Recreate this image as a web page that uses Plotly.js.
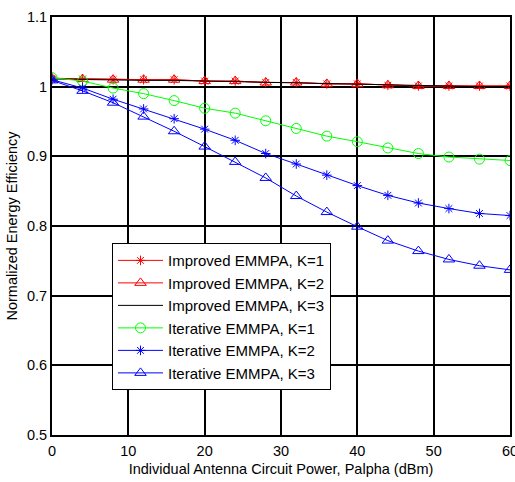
<!DOCTYPE html>
<html>
<head>
<meta charset="utf-8">
<script src="https://cdn.plot.ly/plotly-3.0.1.min.js"></script>
<style>html,body{margin:0;padding:0;background:#fff;}#chart{width:515px;height:482px;}</style>
</head>
<body>
<div id="chart"></div>
<script>
const palpha = [0, 4, 8, 12, 16, 20, 24, 28, 32, 36, 40, 44, 48, 52, 56, 60];
const improvedK1 = [1.012, 1.011, 1.010, 1.010, 1.010, 1.008, 1.008, 1.006, 1.006, 1.004, 1.004, 1.002, 1.001, 1.001, 1.001, 1.001];
const improvedK2 = [1.012, 1.011, 1.010, 1.010, 1.010, 1.008, 1.008, 1.006, 1.006, 1.004, 1.004, 1.002, 1.001, 1.001, 1.001, 1.001];
const improvedK3 = [1.011, 1.010, 1.010, 1.009, 1.009, 1.008, 1.007, 1.006, 1.005, 1.004, 1.003, 1.002, 1.001, 1.001, 1.000, 1.000];
const iterativeK1 = [1.013, 1.008, 0.998, 0.990, 0.980, 0.969, 0.962, 0.951, 0.940, 0.929, 0.921, 0.912, 0.904, 0.899, 0.896, 0.894];
const iterativeK2 = [1.010, 0.998, 0.982, 0.968, 0.954, 0.939, 0.923, 0.904, 0.889, 0.873, 0.858, 0.844, 0.833, 0.825, 0.818, 0.815];
const iterativeK3 = [1.009, 0.994, 0.977, 0.957, 0.936, 0.914, 0.892, 0.869, 0.843, 0.820, 0.799, 0.779, 0.764, 0.752, 0.743, 0.737];
const seriesNames = ["Improved EMMPA, K=1", "Improved EMMPA, K=2", "Improved EMMPA, K=3",
                     "Iterative EMMPA, K=1", "Iterative EMMPA, K=2", "Iterative EMMPA, K=3"];
const xTicks = [0, 10, 20, 30, 40, 50, 60];
const yTicks = [0.5, 0.6, 0.7, 0.8, 0.9, 1.0, 1.1];
const yTickText = ["0.5", "0.6", "0.7", "0.8", "0.9", "1", "1.1"];

function tr(y, name, color, symbol, msize) {
  const t = {x: palpha, y: y, name: name, type: 'scatter',
    mode: symbol ? 'lines+markers' : 'lines',
    line: {color: color, width: 1}};
  if (symbol) t.marker = {symbol: symbol, size: msize, color: color, line: {color: color, width: 1}};
  return t;
}

const data = [
  tr(improvedK1, seriesNames[0], '#ff0000', 'asterisk-open', 8),
  tr(improvedK2, seriesNames[1], '#ff0000', 'triangle-up-open', 10),
  tr(improvedK3, seriesNames[2], '#000000', null, 0),
  tr(iterativeK1, seriesNames[3], '#00ff00', 'circle-open', 10),
  tr(iterativeK2, seriesNames[4], '#0000ff', 'asterisk-open', 8),
  tr(iterativeK3, seriesNames[5], '#0000ff', 'triangle-up-open', 10)
];

const FF = 'Liberation Sans, Arial, sans-serif';
const axisFont = {family: FF, size: 14.5, color: '#000'};
const layout = {
  width: 515, height: 482,
  margin: {l: 52, r: 5, t: 17, b: 47},
  paper_bgcolor: '#fff', plot_bgcolor: '#fff',
  showlegend: true,
  font: {family: FF, size: 14.5, color: '#000'},
  xaxis: {
    range: [0, 60], tickvals: xTicks, ticktext: xTicks.map(String),
    showgrid: true, gridcolor: '#000', gridwidth: 2,
    showline: true, linecolor: '#000', linewidth: 2, mirror: true,
    zeroline: false, ticks: 'outside', ticklen: 2, tickcolor: 'rgba(0,0,0,0)',
    tickfont: axisFont, ticklabeloverflow: 'allow',
    title: {text: 'Individual Antenna Circuit Power, Palpha (dBm)', font: {family: FF, size: 14.5}, standoff: 5}
  },
  yaxis: {
    range: [0.5, 1.1], tickvals: yTicks, ticktext: yTickText,
    showgrid: true, gridcolor: '#000', gridwidth: 2,
    showline: true, linecolor: '#000', linewidth: 2, mirror: true,
    zeroline: false, ticks: '', tickfont: axisFont,
    title: {text: 'Normalized Energy Efficiency', font: {family: FF, size: 14.5}, standoff: 6}
  },
  legend: {
    x: 0.131, y: 0.459, xanchor: 'left', yanchor: 'top',
    bgcolor: '#fff', bordercolor: '#000', borderwidth: 1,
    font: {family: FF, size: 15, color: '#000'},
    itemwidth: 45,
    tracegroupgap: 0
  }
};
Plotly.newPlot('chart', data, layout, {displayModeBar: false, staticPlot: true});
</script>
</body>
</html>
